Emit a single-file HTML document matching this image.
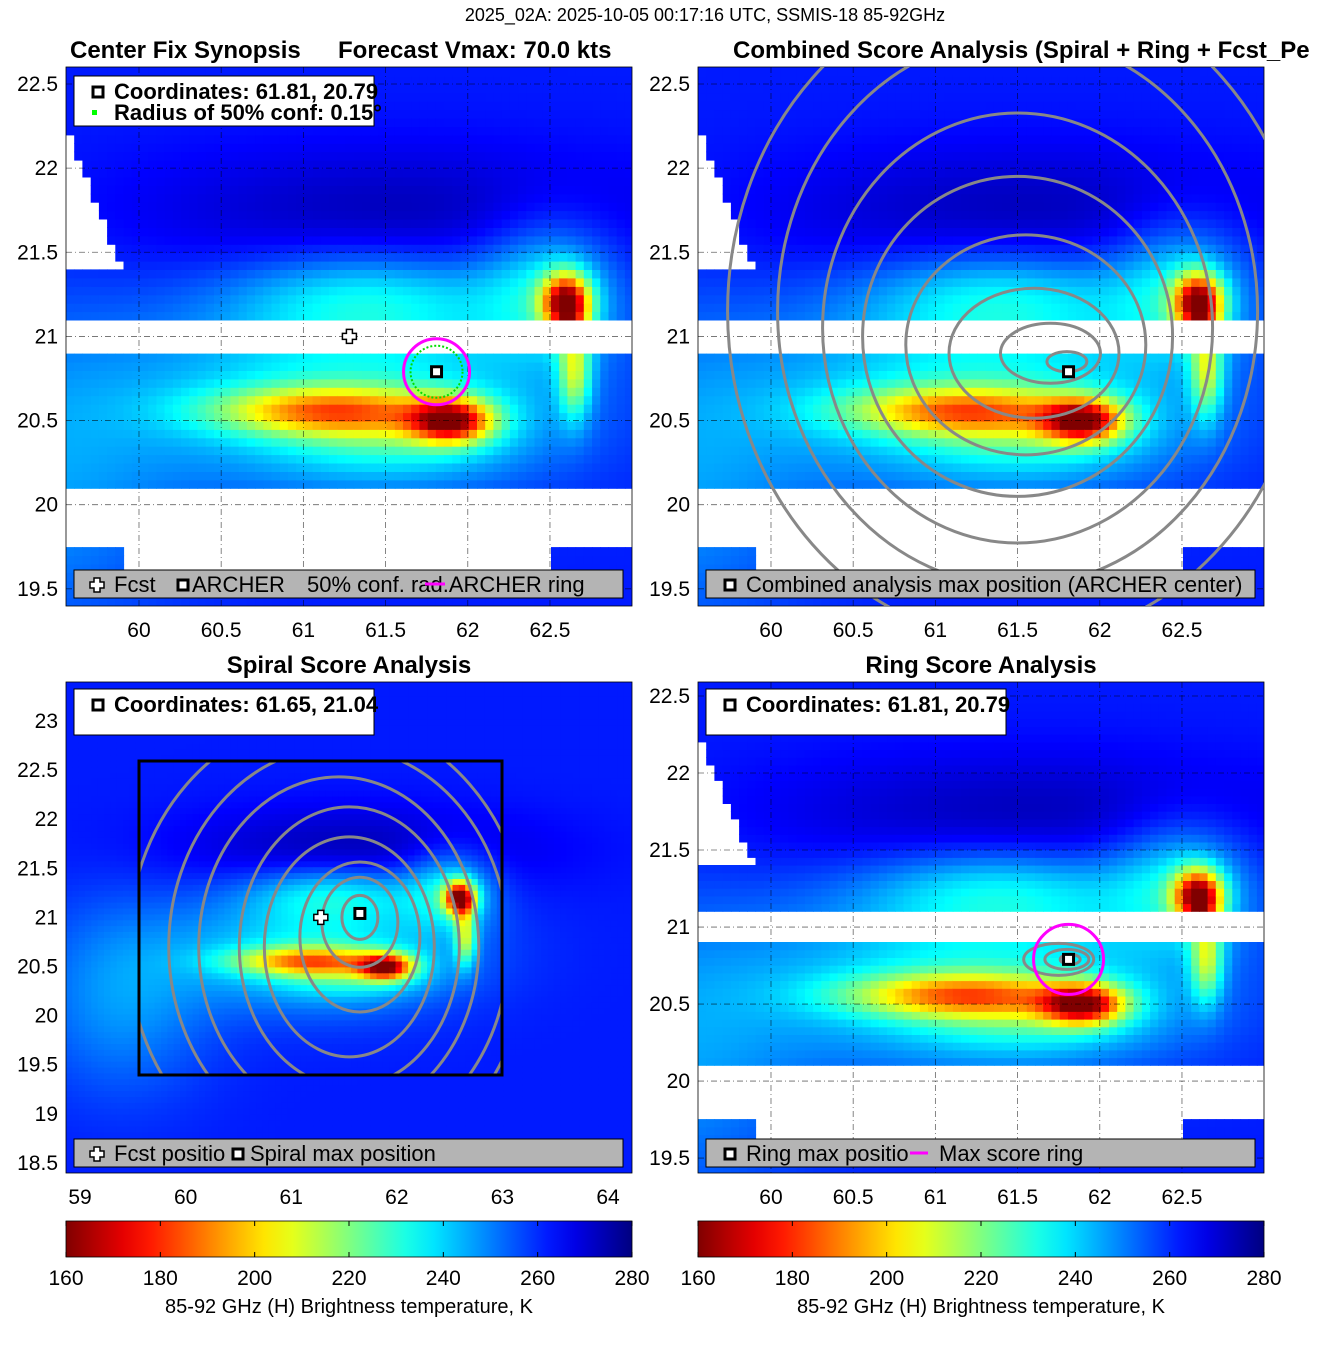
<!DOCTYPE html>
<html><head><meta charset="utf-8">
<style>
body{margin:0;background:#fff;width:1317px;height:1350px;overflow:hidden;font-family:"Liberation Sans","DejaVu Sans",sans-serif}
svg text{font-family:"Liberation Sans","DejaVu Sans",sans-serif}
</style></head>
<body>
<svg id="fig" width="1317" height="1350" viewBox="0 0 1317 1350" xmlns="http://www.w3.org/2000/svg">
<text x="705" y="21" font-size="18" text-anchor="middle">2025_02A: 2025-10-05 00:17:16 UTC, SSMIS-18 85-92GHz</text>
<text x="70" y="58" font-size="24" font-weight="bold">Center Fix Synopsis</text>
<text x="338" y="58" font-size="24" font-weight="bold">Forecast Vmax: 70.0 kts</text>
<text x="733" y="58" font-size="24" font-weight="bold">Combined Score Analysis (Spiral + Ring + Fcst_Pe</text>
<text x="349" y="673" font-size="24" font-weight="bold" text-anchor="middle">Spiral Score Analysis</text>
<text x="981" y="673" font-size="24" font-weight="bold" text-anchor="middle">Ring Score Analysis</text>
<g id="p1"></g>
<g id="p2"></g>
<g id="p3"></g>
<g id="p4"></g>
<g id="cb"></g>
</svg>
<script>
// ---- data ----
const blobLon=[61.9,61.15,61.3,61.4,62.6,62.5,62.65,59.4,61.6,61.6];
const blobLat=[20.5,20.56,20.65,21.25,21.2,21.3,20.8,20.2,21.7,20.4];
const blobSx=[0.17,0.5,0.9,0.6,0.1,0.3,0.07,0.6,1.2,0.5];
const blobSy=[0.09,0.1,0.4,0.2,0.12,0.3,0.2,0.7,0.3,0.15];
const blobAmp=[70,48,28,22,85,25,40,15,-12,15];
const baseTemp=262;
const cbTicks=[160,180,200,220,240,260,280];
const xTicksA=[60,60.5,61,61.5,62,62.5];
const yTicksA=[19.5,20,20.5,21,21.5,22,22.5];
const xTicksB=[59,60,61,62,63,64];
const yTicksB=[18.5,19,19.5,20,20.5,21,21.5,22,22.5,23];
const centerArcher=[61.81,20.79];
const centerSpiral=[61.65,21.04];
const fcstPos=[61.28,21.0];

const NS='http://www.w3.org/2000/svg';
function mk(tag,attrs,parent){const e=document.createElementNS(NS,tag);for(const k in attrs)e.setAttribute(k,attrs[k]);if(parent)parent.appendChild(e);return e;}
function jet(t){t=Math.max(0,Math.min(1,t));const r=Math.max(0,Math.min(1,1.5-Math.abs(4*t-3))),g=Math.max(0,Math.min(1,1.5-Math.abs(4*t-2))),b=Math.max(0,Math.min(1,1.5-Math.abs(4*t-1)));return `rgb(${Math.round(r*255)},${Math.round(g*255)},${Math.round(b*255)})`;}
function tcol(T){return jet((280-T)/120);}
function field(lon,lat){let T=baseTemp;for(let i=0;i<blobLon.length;i++){const dx=(lon-blobLon[i])/blobSx[i],dy=(lat-blobLat[i])/blobSy[i];T-=blobAmp[i]*Math.exp(-0.5*(dx*dx+dy*dy));}return Math.max(160,T);}
function masked(lon,lat){if(lat>20.92&&lat<21.08)return true;if(lat>19.77&&lat<20.12)return true;if(lat<19.77&&lat>19.55&&lon>59.9&&lon<62.5)return true;if(lon<59.9-(lat-21.4)*0.4&&lat>21.4&&lat<22.3)return true;return false;}
function panel(gid,px,py,pw,ph,x0,x1,y0,y1,useMask,xt,yt,dx,dy,grid){
  const g=document.getElementById(gid);
  const sx=v=>px+(v-x0)/(x1-x0)*pw, sy=v=>py+(y1-v)/(y1-y0)*ph;
  const cid=gid+'clip';const cp=mk('clipPath',{id:cid},g);mk('rect',{x:px,y:py,width:pw,height:ph},cp);
  const hm=mk('g',{'clip-path':`url(#${cid})`},g);
  
  
  for(let lon=x0;lon<x1;lon+=dx){for(let lat=y0;lat<y1;lat+=dy){
    const cx=lon+dx/2,cy=lat+dy/2;
    if(useMask&&masked(cx,cy))continue;
    const r=mk('rect',{x:sx(lon).toFixed(1),y:sy(lat+dy).toFixed(1),width:((dx)/(x1-x0)*pw+0.6).toFixed(1),height:((dy)/(y1-y0)*ph+0.6).toFixed(1),fill:tcol(field(cx,cy))},hm);
    
    
  }}
  xt.forEach(v=>{if(grid)mk('line',{x1:sx(v),x2:sx(v),y1:py,y2:py+ph,stroke:'#000','stroke-width':0.8,'stroke-dasharray':'6 3 1 3','opacity':0.6},g);
    const t=mk('text',{x:sx(v),y:py+ph+31,'font-size':21,'text-anchor':'middle'},g);t.textContent=v;
    });
  yt.forEach(v=>{if(grid)mk('line',{x1:px,x2:px+pw,y1:sy(v),y2:sy(v),stroke:'#000','stroke-width':0.8,'stroke-dasharray':'6 3 1 3','opacity':0.6},g);
    const t=mk('text',{x:px-8,y:sy(v)+7,'font-size':21,'text-anchor':'end'},g);t.textContent=v;
    });
  mk('rect',{x:px,y:py,width:pw,height:ph,fill:'none',stroke:'#000','stroke-width':0.8},g);
  return {g,sx,sy,hm};
}
function marker(g,x,y,name){const r=mk('rect',{x:x-5,y:y-5,width:10,height:10,fill:'#fff',stroke:'#000','stroke-width':3},g);}
function cross(g,x,y,name){const p=mk('path',{d:`M${x-3},${y-7}h6v4h4v6h-4v4h-6v-4h-4v-6h4z`,fill:'#fff',stroke:'#000','stroke-width':1.5},g);}
function contours(P,cx,cy,list,clip){
  const grp=mk('g',{fill:'none',stroke:'#888','stroke-width':3,'clip-path':`url(#${clip})`},P.g);
  
  list.forEach(([rx,ry,ox,oy])=>{mk('ellipse',{cx:P.sx(cx+ox),cy:P.sy(cy+oy),rx:rx,ry:ry},grp);});
}
function legendBox(g,x,y,w,h,name){const r=mk('rect',{x,y,width:w,height:h,fill:'#fff',stroke:'#000','stroke-width':1},g);}
function txt(g,x,y,s,size,bold,name){const t=mk('text',{x,y,'font-size':size,'font-weight':bold?'bold':'normal'},g);t.textContent=s;return t;}

// panel 1
const P1=panel('p1',66,67,566,539,59.556,62.999,19.398,22.601,true,xTicksA,yTicksA,0.05,0.05,true);
legendBox(P1.g,74,76,300,50,'info-legend');
marker(P1.g,98,92,'legend-archer-marker');
mk('rect',{x:92,y:110,width:5,height:5,fill:'#0f0'},P1.g);
txt(P1.g,114,99,'Coordinates: 61.81, 20.79',22,true,'coordinates-text');
txt(P1.g,114,120,'Radius of 50% conf: 0.15°',22,true,'radius-text');
mk('circle',{cx:P1.sx(centerArcher[0]),cy:P1.sy(centerArcher[1]),r:26,fill:'none',stroke:'#0d0','stroke-width':2,'stroke-dasharray':'2 2'},P1.g);
mk('circle',{cx:P1.sx(centerArcher[0]),cy:P1.sy(centerArcher[1]),r:33,fill:'none',stroke:'#f0f','stroke-width':3},P1.g);
marker(P1.g,P1.sx(centerArcher[0]),P1.sy(centerArcher[1]),'archer-center');
cross(P1.g,P1.sx(fcstPos[0]),P1.sy(fcstPos[1]),'forecast-position');
const lg1=mk('rect',{x:74,y:570,width:549,height:28,fill:'#b4b4b4',stroke:'#000'},P1.g);
cross(P1.g,97,585,'legend-fcst-icon');txt(P1.g,114,592,'Fcst',22,false,'legend-fcst');
marker(P1.g,183,585,'legend-archer-icon');txt(P1.g,192,592,'ARCHER',22,false,'legend-archer');
txt(P1.g,307,592,'50% conf. rad.ARCHER ring',22,false,'legend-conf');
mk('line',{x1:425,x2:445,y1:584,y2:584,stroke:'#f0f','stroke-width':3},P1.g);

// panel 2
const P2=panel('p2',698,67,566,539,59.556,62.999,19.398,22.601,true,xTicksA,yTicksA,0.05,0.05,true);
contours(P2,61.75,20.85,[[20,10,0.05,0],[50,30,-0.05,0.05],[85,65,-0.15,0.05],[120,110,-0.2,0.1],[155,160,-0.25,0.15],[195,215,-0.25,0.2],[240,275,-0.25,0.3],[290,330,-0.25,0.3]],'p2clip');
marker(P2.g,P2.sx(centerArcher[0]),P2.sy(centerArcher[1]),'combined-max-position');
const lg2=mk('rect',{x:706,y:570,width:549,height:28,fill:'#b4b4b4',stroke:'#000'},P2.g);
marker(P2.g,730,585,'legend-combined-icon');txt(P2.g,746,592,'Combined analysis max position (ARCHER center)',22,false,'legend-combined');

// panel 3
const P3=panel('p3',66,682,566,491,58.867,64.227,18.397,23.397,false,xTicksB,yTicksB,0.06,0.06,false);
const bc=mk('clipPath',{id:'p3box'},P3.g);mk('rect',{x:139,y:761,width:363,height:314},bc);
contours(P3,61.65,21.0,[[18,22,0,0],[38,45,0,-0.05],[60,75,0,-0.2],[85,110,-0.1,-0.3],[110,140,-0.1,-0.3],[140,170,-0.2,-0.3],[170,200,-0.2,-0.3],[200,230,-0.3,-0.3]],'p3box');
const box=mk('rect',{x:139,y:761,width:363,height:314,fill:'none',stroke:'#000','stroke-width':3},P3.g);
legendBox(P3.g,74,689,300,46,'info-legend');
marker(P3.g,98,705,'legend-spiral-marker');txt(P3.g,114,712,'Coordinates: 61.65, 21.04',22,true,'coordinates-text');
marker(P3.g,P3.sx(centerSpiral[0]),P3.sy(centerSpiral[1]),'spiral-max');
cross(P3.g,P3.sx(fcstPos[0]),P3.sy(fcstPos[1]),'forecast-position');
const lg3=mk('rect',{x:74,y:1139,width:549,height:28,fill:'#b4b4b4',stroke:'#000'},P3.g);
cross(P3.g,97,1154,'legend-fcst-icon');txt(P3.g,114,1161,'Fcst positio',22,false,'legend-fcst');
marker(P3.g,238,1154,'legend-spiral-icon');txt(P3.g,250,1161,'Spiral max position',22,false,'legend-spiral');

// panel 4
const P4=panel('p4',698,682,566,491,59.556,62.999,19.403,22.591,true,xTicksA,yTicksA,0.05,0.05,true);
contours(P4,61.8,20.79,[[10,5,0.02,0],[22,10,0,0],[35,16,-0.05,0]],'p4clip');
mk('circle',{cx:P4.sx(centerArcher[0]),cy:P4.sy(centerArcher[1]),r:35,fill:'none',stroke:'#f0f','stroke-width':3},P4.g);
marker(P4.g,P4.sx(centerArcher[0]),P4.sy(centerArcher[1]),'ring-max');
legendBox(P4.g,706,689,300,46,'info-legend');
marker(P4.g,730,705,'legend-ring-marker');txt(P4.g,746,712,'Coordinates: 61.81, 20.79',22,true,'coordinates-text');
const lg4=mk('rect',{x:706,y:1139,width:549,height:28,fill:'#b4b4b4',stroke:'#000'},P4.g);
marker(P4.g,730,1154,'legend-ring-icon');txt(P4.g,746,1161,'Ring max positio',22,false,'legend-ring');
mk('line',{x1:910,x2:928,y1:1153,y2:1153,stroke:'#f0f','stroke-width':3},P4.g);
txt(P4.g,939,1161,'Max score ring',22,false,'legend-ring-score');

// colorbars
const cbG=document.getElementById('cb');
const defs=mk('defs',{},cbG);const lgd=mk('linearGradient',{id:'jetg',x1:0,x2:1,y1:0,y2:0},defs);
for(let i=0;i<=20;i++){mk('stop',{offset:i/20,'stop-color':tcol(160+i*6)},lgd);}
[66,698].forEach((x0,k)=>{
  const r=mk('rect',{x:x0,y:1221,width:566,height:36,fill:'url(#jetg)',stroke:'#000','stroke-width':0.8},cbG);
  
  cbTicks.forEach(v=>{const x=x0+(v-160)/120*566;
    mk('line',{x1:x,x2:x,y1:1221,y2:1226,stroke:'#000'},cbG);mk('line',{x1:x,x2:x,y1:1252,y2:1257,stroke:'#000'},cbG);
    const t=mk('text',{x,y:1285,'font-size':21,'text-anchor':'middle'},cbG);t.textContent=v;
    });
  const l=mk('text',{x:x0+283,y:1313,'font-size':20,'text-anchor':'middle'},cbG);l.textContent='85-92 GHz (H) Brightness temperature, K';
  
});
</script>
</body></html>
